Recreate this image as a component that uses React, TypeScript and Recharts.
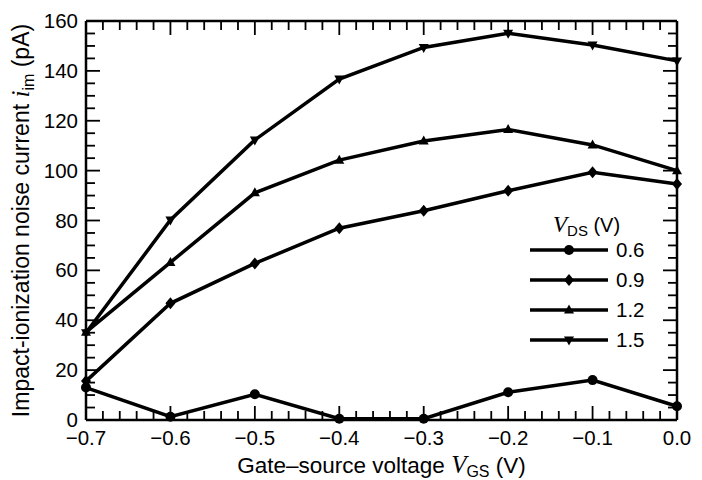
import React from "react";
import { ComposedChart, Line, Scatter, XAxis, YAxis, Legend } from "recharts";

// gate-source voltage (V)
const vgs = [-0.7, -0.6, -0.5, -0.4, -0.3, -0.2, -0.1, 0];
// impact-ionization noise current (pA) per drain-source voltage
const vds06 = [13, 1.3, 10.3, 0.5, 0.5, 11.1, 16, 5.5];
const vds09 = [15.6, 46.8, 62.8, 76.9, 83.9, 91.9, 99.3, 94.6];
const vds12 = [35.2, 63.2, 91.1, 104.2, 111.9, 116.5, 110.3, 100];
const vds15 = [35, 80.2, 112.3, 136.7, 149.4, 155.1, 150.4, 144];
const seriesNames = ["0.6", "0.9", "1.2", "1.5"];

const xMajor = [-0.7, -0.6, -0.5, -0.4, -0.3, -0.2, -0.1, 0];
const yMajor = [0, 20, 40, 60, 80, 100, 120, 140, 160];

// minor ticks: every 0.02 V and every 5 pA
const xTicks: number[] = [];
for (let k = 0; k <= 35; k++) xTicks.push(Number((-0.7 + k * 0.02).toFixed(2)));
const yTicks: number[] = [];
for (let k = 0; k <= 32; k++) yTicks.push(k * 5);

const data = vgs.map((v, i) => ({
  vgs: v,
  s06: vds06[i],
  s09: vds09[i],
  s12: vds12[i],
  s15: vds15[i],
}));

// tick mark anchors on the four sides of the frame (drawn through the chart scales)
const bottomMarks = xTicks.map((v) => ({ vgs: v, t: 0 }));
const topMarks = xTicks.map((v) => ({ vgs: v, t: 160 }));
const leftMarks = yTicks.map((v) => ({ vgs: -0.7, t: v }));
const rightMarks = yTicks.map((v) => ({ vgs: 0, t: v }));

const FONT = "'Liberation Sans', Arial, sans-serif";
const SERIF = "'Liberation Serif', 'Times New Roman', serif";
const MAJ = 14;
const MIN = 9;
const TW = 1.8;

const isMajorX = (v: number) => xMajor.some((m) => Math.abs(m - v) < 1e-6);
const isMajorY = (v: number) => yMajor.includes(v);
const fmtX = (v: number) => (Math.abs(v) < 1e-9 ? "0.0" : v.toFixed(1).replace("-", "\u2212"));

const tickShape = (side: string) => (p: any) => {
  const { cx, cy, payload } = p;
  if (side === "bottom" || side === "top") {
    const len = isMajorX(payload.vgs) ? MAJ : MIN;
    const y = side === "bottom" ? cy - len : cy;
    return <rect x={cx - TW / 2} y={y} width={TW} height={len} fill="#000" />;
  }
  const len = isMajorY(payload.t) ? MAJ : MIN;
  const x = side === "left" ? cx : cx - len;
  return <rect x={x} y={cy - TW / 2} width={len} height={TW} fill="#000" />;
};

const BottomLabel = (p: any) => (
  <text x={p.x} y={p.y + 25} textAnchor="middle" fontSize={20.5} fontFamily={FONT} fill="#000">
    {fmtX(p.payload.value)}
  </text>
);

const LeftLabel = (p: any) => (
  <text x={p.x - 8} y={p.y + 7} textAnchor="end" fontSize={20.5} fontFamily={FONT} fill="#000">
    {p.payload.value}
  </text>
);

const markerPath = (kind: string, cx: number, cy: number) => {
  if (kind === "diamond") return `M${cx},${cy - 6}L${cx + 5},${cy}L${cx},${cy + 6}L${cx - 5},${cy}Z`;
  if (kind === "up") return `M${cx},${cy - 5.5}L${cx + 5},${cy + 3.5}L${cx - 5},${cy + 3.5}Z`;
  return `M${cx},${cy + 5.5}L${cx + 5},${cy - 3.5}L${cx - 5},${cy - 3.5}Z`;
};

const Marker = ({ kind, cx, cy }: { kind: string; cx: number; cy: number }) =>
  kind === "circle" ? <circle cx={cx} cy={cy} r={5} fill="#000" /> : <path d={markerPath(kind, cx, cy)} fill="#000" />;

const makeDot = (kind: string) => (p: any) => <Marker key={p.index} kind={kind} cx={p.cx} cy={p.cy} />;

const kinds: Record<string, string> = { s06: "circle", s09: "diamond", s12: "up", s15: "down" };

const LegendBox = (props: any) => {
  const rows = (props.payload || []).filter((r: any) => kinds[r.dataKey]);
  return (
    <svg width={140} height={150} style={{ display: "block" }}>
      <text x={28} y={32} fontSize={20} fontFamily={FONT} fill="#000">
        <tspan fontFamily={SERIF} fontStyle="italic" fontSize={23}>V</tspan>
        <tspan fontSize={15} dy={4}>DS</tspan>
        <tspan dy={-4}> (V)</tspan>
      </text>
      {rows.map((r: any, i: number) => {
        const y = 50 + i * 30;
        return (
          <g key={r.value}>
            <line x1={5} x2={83} y1={y} y2={y} stroke="#000" strokeWidth={3.5} />
            <Marker kind={kinds[r.dataKey]} cx={44} cy={y} />
            <text x={91} y={y + 7} fontSize={20.5} fontFamily={FONT} fill="#000">
              {r.value}
            </text>
          </g>
        );
      })}
    </svg>
  );
};

const YTitle = (p: any) => {
  const vb = p.viewBox;
  const cy = vb.y + vb.height / 2;
  const x = 29;
  return (
    <text x={x} y={cy} transform={`rotate(-90, ${x}, ${cy})`} textAnchor="middle" fontSize={23} fontFamily={FONT} fill="#000">
      Impact-ionization noise current{" "}
      <tspan fontFamily={SERIF} fontStyle="italic" fontSize={25}>i</tspan>
      <tspan fontSize={16} dy={5}>im</tspan>
      <tspan dy={-5}> (pA)</tspan>
    </text>
  );
};

const XTitle = (p: any) => {
  const vb = p.viewBox;
  const cx = vb.x + vb.width / 2;
  return (
    <text x={cx} y={473} textAnchor="middle" fontSize={22.5} fontFamily={FONT} fill="#000">
      Gate–source voltage{" "}
      <tspan fontFamily={SERIF} fontStyle="italic" fontSize={25}>V</tspan>
      <tspan fontSize={16} dy={4}>GS</tspan>
      <tspan dy={-4}> (V)</tspan>
    </text>
  );
};

const frame = { stroke: "#000", strokeWidth: 2.5 };

export default function App() {
  const keys = ["s06", "s09", "s12", "s15"];
  return (
    <div style={{ position: "absolute", left: 0, top: 0, background: "#fff" }}>
      <ComposedChart width={702} height={480} data={data} margin={{ top: 20, right: 24, bottom: 0, left: 0 }}>
        <XAxis
          dataKey="vgs"
          type="number"
          domain={[-0.7, 0]}
          ticks={xMajor}
          interval={0}
          tickSize={0}
          tickMargin={0}
          tickLine={false}
          axisLine={frame}
          tick={<BottomLabel />}
          height={60}
          label={<XTitle />}
        />
        <XAxis
          xAxisId="top"
          orientation="top"
          dataKey="vgs"
          type="number"
          domain={[-0.7, 0]}
          tick={false}
          tickLine={false}
          axisLine={frame}
          height={1}
        />
        <YAxis
          type="number"
          domain={[0, 160]}
          ticks={yMajor}
          interval={0}
          tickSize={0}
          tickMargin={0}
          tickLine={false}
          axisLine={frame}
          tick={<LeftLabel />}
          width={86}
          label={<YTitle />}
        />
        <YAxis
          yAxisId="right"
          orientation="right"
          type="number"
          domain={[0, 160]}
          tick={false}
          tickLine={false}
          axisLine={frame}
          width={1}
        />
        <Legend
          layout="vertical"
          align="center"
          verticalAlign="middle"
          content={<LegendBox />}
          wrapperStyle={{ left: 525, top: 200, width: 140, height: 150 }}
        />
        <Scatter data={bottomMarks} dataKey="t" shape={tickShape("bottom")} legendType="none" isAnimationActive={false} />
        <Scatter data={topMarks} dataKey="t" shape={tickShape("top")} legendType="none" isAnimationActive={false} />
        <Scatter data={leftMarks} dataKey="t" shape={tickShape("left")} legendType="none" isAnimationActive={false} />
        <Scatter data={rightMarks} dataKey="t" shape={tickShape("right")} legendType="none" isAnimationActive={false} />
        {keys.map((k, i) => (
          <Line
            key={k}
            dataKey={k}
            name={seriesNames[i]}
            stroke="#000"
            strokeWidth={3.5}
            dot={makeDot(kinds[k])}
            activeDot={false}
            isAnimationActive={false}
          />
        ))}
      </ComposedChart>
    </div>
  );
}
